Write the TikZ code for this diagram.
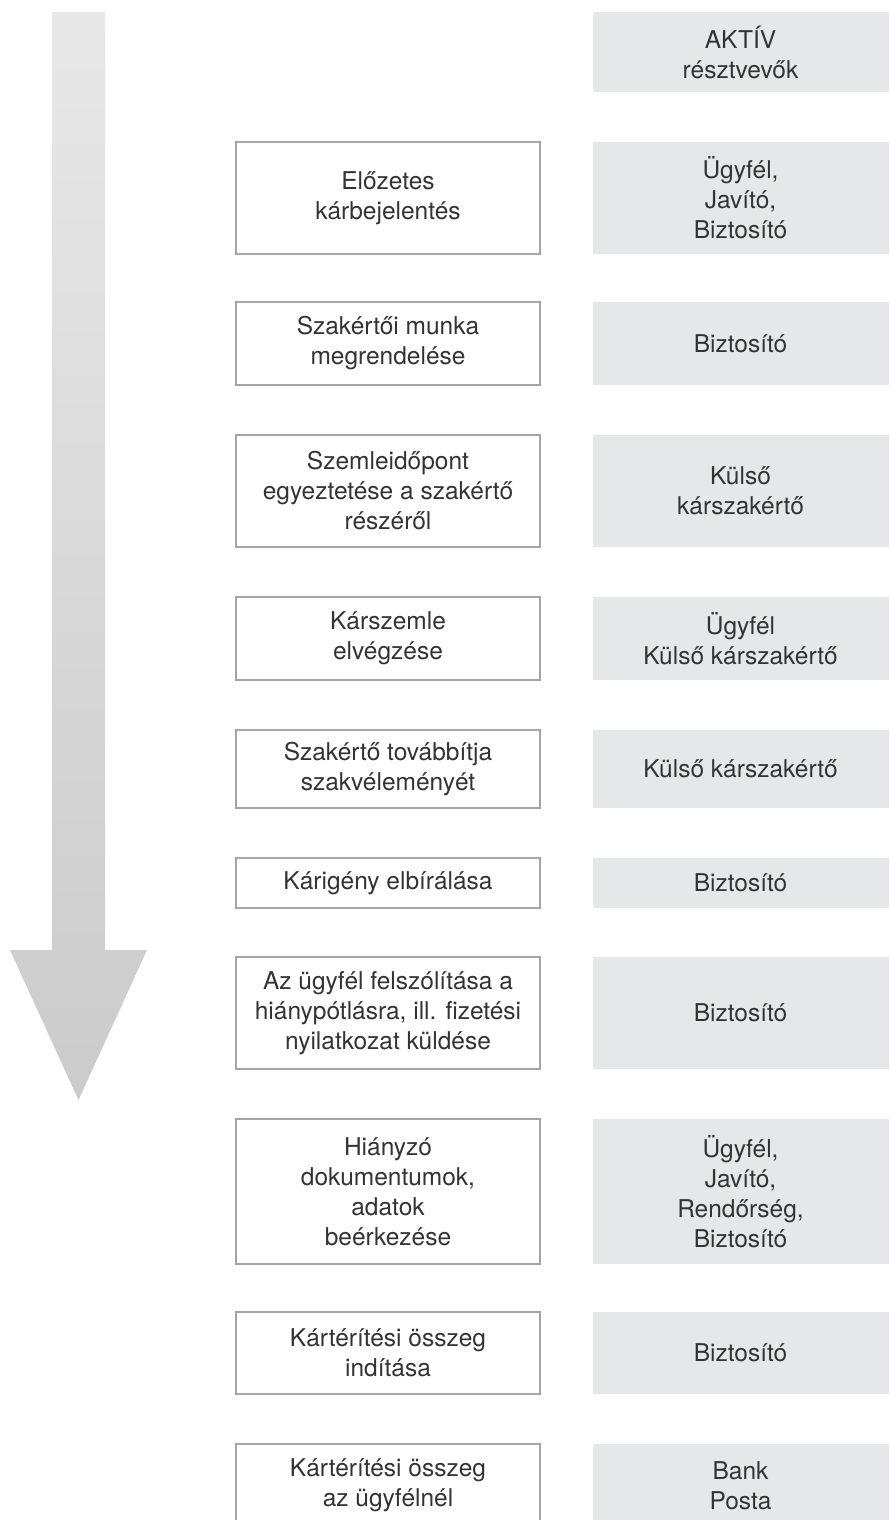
\documentclass[tikz,border=0pt]{standalone}
\usepackage{fontspec}
\setmainfont{TeX Gyre Heros}
\definecolor{boxline}{HTML}{A6A6A6}
\definecolor{grayfill}{HTML}{E6E7E8}
\definecolor{txt}{HTML}{333333}
\definecolor{arrtop}{HTML}{E8E8E8}
\definecolor{arrbot}{HTML}{CBCBCB}
\tikzset{
  stepbox/.style={draw=boxline, line width=1.4pt, fill=white, rectangle, inner sep=0pt,
    minimum width=304pt, align=center, text=txt, font=\fontsize{24.5}{30}\selectfont},
  actorbox/.style={fill=grayfill, rectangle, inner sep=0pt,
    minimum width=296pt, align=center, text=txt, font=\fontsize{24.5}{30}\selectfont},
}
% #1 name, #2 top, #3 bottom, #4 left text, #5 right text
\newcommand\procrow[5]{%
  \pgfmathsetmacro\rowh{#3-#2}%
  \pgfmathsetmacro\rowc{-(#2+#3)/2}%
  \node[stepbox, minimum height=\rowh pt] (L#1) at (388,\rowc) {#4};
  \node[actorbox, minimum height=\rowh pt] (R#1) at (740.5,\rowc) {#5};
}
\begin{document}
\begin{tikzpicture}[x=1pt,y=-1pt]
\clip (0,0) rectangle (890,1520);
\fill[white] (0,0) rectangle (890,1520);
% big arrow
\shade[top color=arrtop, bottom color=arrbot]
  (52,12) -- (105,12) -- (105,950) -- (147,950) -- (78.5,1100) -- (10,950) -- (52,950) -- cycle;
% header
\node[actorbox, minimum height=80pt] (R1) at (740.5,52) {AKTÍV\\résztvevők};
\begin{scope}[y=1pt]
\procrow{2}{142}{254}{Előzetes\\kárbejelentés}{Ügyfél,\\Javító,\\Biztosító}
\procrow{3}{302}{385}{Szakértői munka\\megrendelése}{Biztosító}
\procrow{4}{435}{547}{Szemleidőpont\\egyeztetése a szakértő\\részéről}{Külső\\kárszakértő}
\procrow{5}{597}{680}{Kárszemle\\elvégzése}{Ügyfél\\Külső kárszakértő}
\procrow{6}{730}{808}{Szakértő továbbítja\\szakvéleményét}{Külső kárszakértő}
\procrow{7}{858}{908}{Kárigény elbírálása}{Biztosító}
\procrow{8}{957}{1069}{Az ügyfél felszólítása a\\hiánypótlásra, ill. fizetési\\nyilatkozat küldése}{Biztosító}
\procrow{9}{1119}{1264}{Hiányzó\\dokumentumok,\\adatok\\beérkezése}{Ügyfél,\\Javító,\\Rendőrség,\\Biztosító}
\procrow{10}{1312}{1394}{Kártérítési összeg\\indítása}{Biztosító}
\procrow{11}{1444}{1527}{Kártérítési összeg\\az ügyfélnél}{Bank\\Posta}
\end{scope}
\end{tikzpicture}
\end{document}
